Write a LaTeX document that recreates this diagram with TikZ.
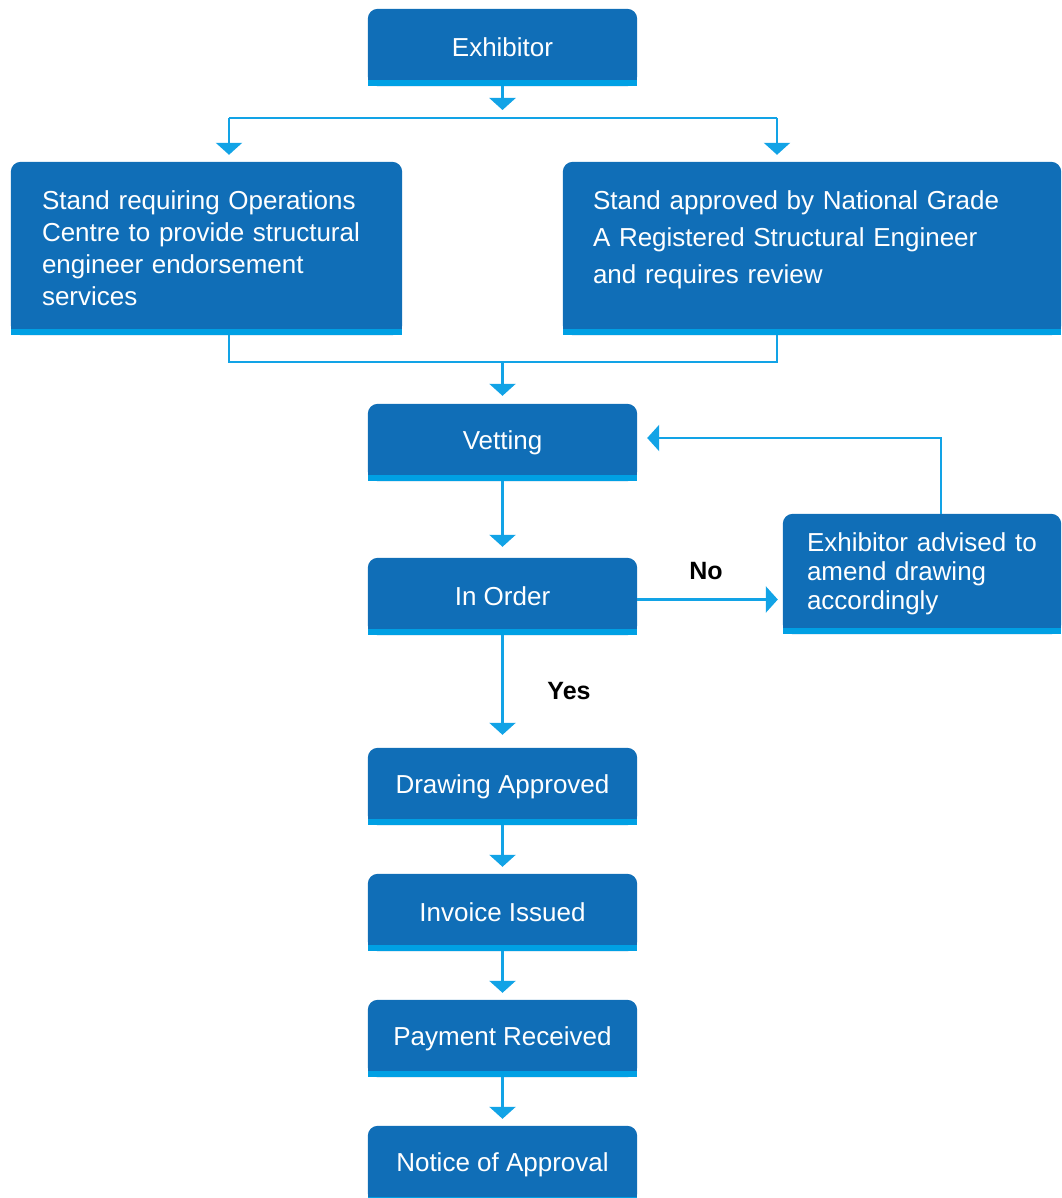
\documentclass[tikz,border=0pt]{standalone}
\usepackage{fontspec}
\setmainfont{Liberation Sans}
\usetikzlibrary{arrows.meta,backgrounds}
\definecolor{boxblue}{HTML}{106EB7}
\definecolor{stripblue}{HTML}{00A0E4}
\definecolor{linkblue}{HTML}{12A3E6}
\newcommand{\boxfont}{\fontsize{26}{32}\selectfont}

\begin{document}
\begin{tikzpicture}
[x=1pt,y=-1pt,
box/.style={minimum width=269pt,minimum height=77pt,inner sep=0pt,text=white,font=\boxfont},
link/.style={draw=linkblue,line width=2.5pt},
arr/.style={link,-{Triangle[width=26pt,length=12pt]}},
tag/.style={font=\fontsize{25}{30}\selectfont\bfseries}]
\useasboundingbox (0,0) rectangle (1061,1198);
\node[box] (exh) at (502.5,47.5) {Exhibitor};
\node[box,minimum width=391pt,minimum height=173pt,text width=329pt,align=left] (ops) at (206.5,248.5)
  {Stand requiring Operations\\Centre to provide structural\\engineer endorsement\\services};
\node[box,minimum width=498pt,minimum height=173pt,text width=438pt,align=left,
  font=\fontsize{26}{37}\selectfont] (eng) at (812,248.5)
  {Stand approved by National Grade\\A Registered Structural Engineer\\and requires review\par\vspace*{18pt}};
\node[box] (vet) at (502.5,442.5) {Vetting};
\node[box] (ord) at (502.5,596.5) {In Order};
\node[box,minimum width=278pt,minimum height=120pt,text width=230pt,align=left,
  font=\fontsize{26}{29}\selectfont] (amend) at (922,574)
  {Exhibitor advised to\\amend drawing\\accordingly};
\node[box] (appr) at (502.5,786.5) {Drawing Approved};
\node[box] (inv) at (502.5,912.5) {Invoice Issued};
\node[box] (pay) at (502.5,1038.5) {Payment Received};
\node[box] (note) at (502.5,1164.5) {Notice of Approval};
\node[tag] (no) at (706,571) {No};
\node[tag] (yes) at (569,691) {Yes};
\coordinate (tl) at (229,118);
\coordinate (tr) at (777,118);
\coordinate (bl) at (229,362);
\coordinate (br) at (777,362);
\coordinate (fb) at (941,438);
% box backgrounds
\begin{pgfonlayer}{background}
\foreach \n in {exh,ops,eng,vet,ord,amend,appr,inv,pay,note}{
  \fill[boxblue,rounded corners=10pt] (\n.south west) rectangle (\n.north east);
  \fill[boxblue] (\n.west) rectangle (\n.south east);
  \fill[stripblue] (\n.south west) rectangle ([yshift=6pt]\n.south east);
}
\end{pgfonlayer}
% connectors
\draw[arr,shorten >=8pt] (exh.south) -- (exh.south |- tl);
\draw[link] (tl) -- (tr);
\draw[arr,shorten >=7pt] (tl) -- (ops.north -| tl);
\draw[arr,shorten >=7pt] (tr) -- (eng.north -| tr);
\draw[link] (ops.south -| bl) -- (bl) -- (br) -- (eng.south -| br);
\draw[arr,shorten >=8pt] (vet.north |- bl) -- (vet.north);
\draw[arr,shorten >=11pt] (vet.south) -- (ord.north);
\draw[arr,shorten >=5pt] ([yshift=-3pt]ord.east) -- ([yshift=-3pt]ord.east -| amend.west);
\draw[arr,shorten >=10pt] (amend.north -| fb) -- (fb) -- (vet.east |- fb);
\draw[arr,shorten >=13pt] (ord.south) -- (appr.north);
\draw[arr,shorten >=7pt] (appr.south) -- (inv.north);
\draw[arr,shorten >=7pt] (inv.south) -- (pay.north);
\draw[arr,shorten >=7pt] (pay.south) -- (note.north);
\end{tikzpicture}
\end{document}
